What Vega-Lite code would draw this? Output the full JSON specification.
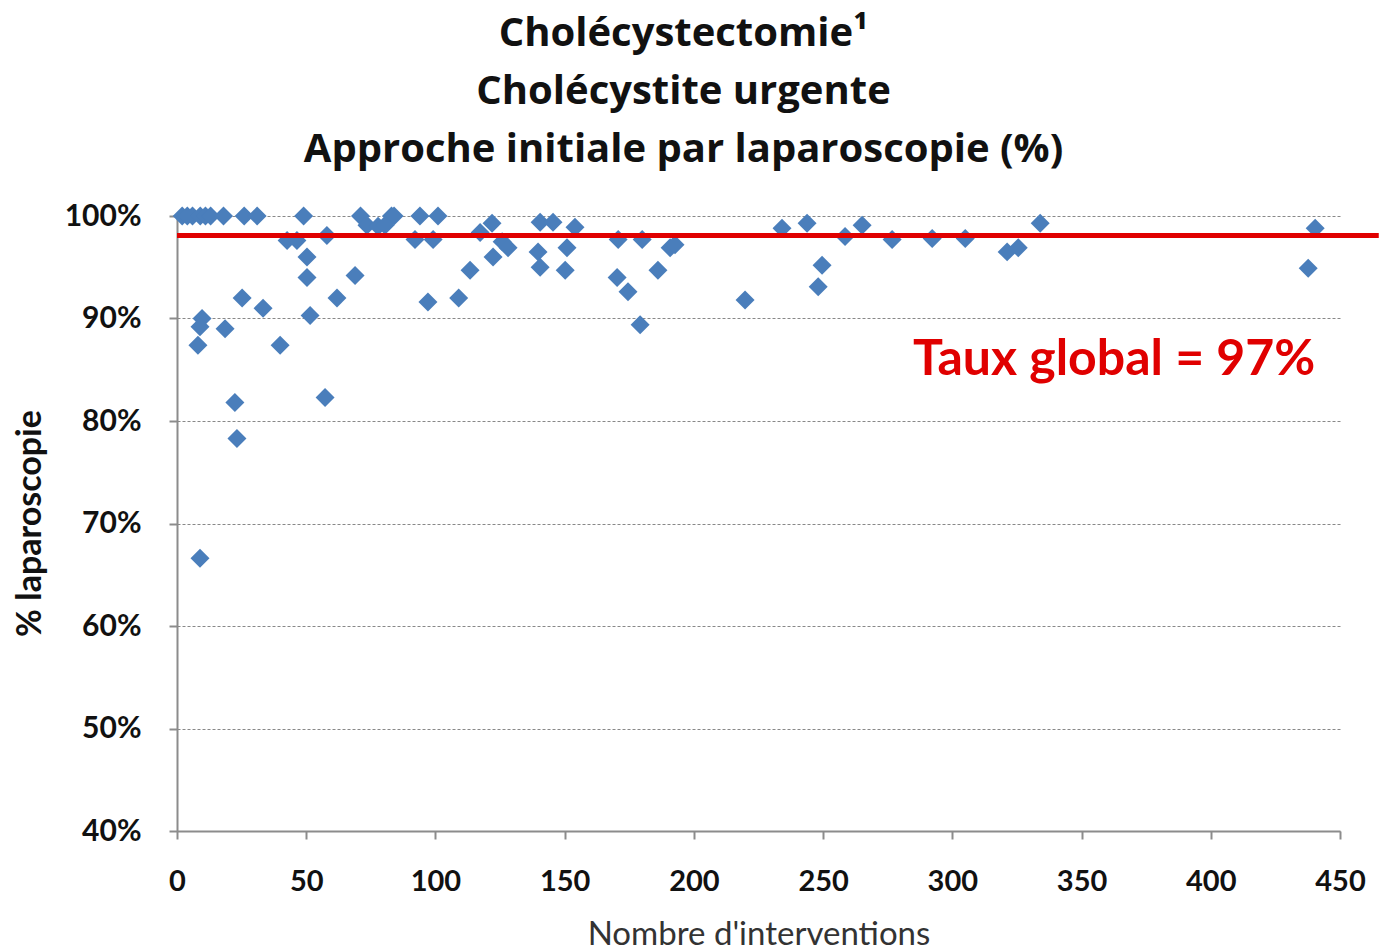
{
  "$schema": "https://vega.github.io/schema/vega-lite/v6.json",
  "width": 1163,
  "height": 615,
  "autosize": "none",
  "padding": {"left": 177, "top": 216, "right": 43, "bottom": 120},
  "background": "white",
  "title": {
    "text": ["Cholécystectomie¹", "Cholécystite urgente", "Approche initiale par laparoscopie (%)"],
    "anchor": "middle",
    "frame": "group",
    "dx": -75,
    "offset": 31,
    "font": "Open Sans",
    "fontSize": 40,
    "fontWeight": "bold",
    "color": "#111",
    "lineHeight": 58
  },
  "config": {
    "view": {"stroke": null},
    "font": "Lato"
  },
  "datasets": {
    "pts": [
      {"n": 2, "pct": 100}, {"n": 4, "pct": 100}, {"n": 6, "pct": 100}, {"n": 9, "pct": 100},
      {"n": 11, "pct": 100}, {"n": 13, "pct": 100}, {"n": 18, "pct": 100}, {"n": 26, "pct": 100},
      {"n": 31, "pct": 100}, {"n": 49, "pct": 100}, {"n": 71, "pct": 100}, {"n": 83, "pct": 100},
      {"n": 84, "pct": 100}, {"n": 94, "pct": 100}, {"n": 101, "pct": 100},
      {"n": 73.5, "pct": 99.1}, {"n": 77.8, "pct": 99.0}, {"n": 80.5, "pct": 99.1},
      {"n": 58, "pct": 98.1}, {"n": 42.6, "pct": 97.6}, {"n": 46.4, "pct": 97.6},
      {"n": 92.1, "pct": 97.7}, {"n": 99.1, "pct": 97.7},
      {"n": 50.3, "pct": 96.0}, {"n": 50.3, "pct": 94.0}, {"n": 68.9, "pct": 94.2},
      {"n": 25.2, "pct": 92.0}, {"n": 33.3, "pct": 91.0}, {"n": 61.9, "pct": 92.0},
      {"n": 97.1, "pct": 91.6}, {"n": 109, "pct": 92.0}, {"n": 51.5, "pct": 90.3},
      {"n": 9.7, "pct": 90.0}, {"n": 8.9, "pct": 89.2}, {"n": 18.6, "pct": 89.0},
      {"n": 8.1, "pct": 87.4}, {"n": 39.9, "pct": 87.4}, {"n": 22.4, "pct": 81.8},
      {"n": 57.3, "pct": 82.3}, {"n": 23.2, "pct": 78.3}, {"n": 8.9, "pct": 66.6},
      {"n": 117.3, "pct": 98.4}, {"n": 121.9, "pct": 99.3}, {"n": 125.8, "pct": 97.5},
      {"n": 128.1, "pct": 96.9}, {"n": 122.3, "pct": 96.0}, {"n": 113.4, "pct": 94.7},
      {"n": 140.5, "pct": 99.4}, {"n": 145.5, "pct": 99.4}, {"n": 154, "pct": 98.9},
      {"n": 139.7, "pct": 96.5}, {"n": 140.5, "pct": 95.0}, {"n": 150.9, "pct": 96.9},
      {"n": 150.2, "pct": 94.7}, {"n": 170.7, "pct": 97.7}, {"n": 180, "pct": 97.7},
      {"n": 170.3, "pct": 94.0}, {"n": 174.5, "pct": 92.6}, {"n": 179.2, "pct": 89.4},
      {"n": 190.8, "pct": 96.9}, {"n": 192.7, "pct": 97.2}, {"n": 186.1, "pct": 94.7},
      {"n": 219.8, "pct": 91.8}, {"n": 234.1, "pct": 98.8}, {"n": 243.8, "pct": 99.3},
      {"n": 249.6, "pct": 95.2}, {"n": 248.1, "pct": 93.1}, {"n": 258.5, "pct": 98.0},
      {"n": 265.1, "pct": 99.1}, {"n": 276.7, "pct": 97.7}, {"n": 292.2, "pct": 97.8},
      {"n": 305, "pct": 97.8}, {"n": 321.2, "pct": 96.5}, {"n": 325.5, "pct": 96.9},
      {"n": 334, "pct": 99.3}, {"n": 440.4, "pct": 98.8}, {"n": 437.7, "pct": 94.9}
    ],
    "ref": [{"x0": 0, "x1": 465, "rate": 98.1}],
    "note": [{"n": 362.6, "pct": 86.0, "label": "Taux global = 97%"}]
  },
  "layer": [
    {
      "data": {"name": "pts"},
      "mark": {"type": "point", "shape": "diamond", "filled": true, "size": 360, "color": "#4a7ebb", "opacity": 1},
      "encoding": {
        "x": {
          "field": "n", "type": "quantitative",
          "scale": {"domain": [0, 450], "nice": false, "zero": true},
          "axis": {
            "values": [0, 50, 100, 150, 200, 250, 300, 350, 400, 450],
            "grid": false,
            "labelFlush": false,
            "domainColor": "#8c8c8c", "domainWidth": 2,
            "tickColor": "#8c8c8c", "tickSize": 8, "tickWidth": 2,
            "labelFont": "Lato", "labelFontSize": 29, "labelFontWeight": "bold", "labelColor": "#111",
            "labelPadding": 28,
            "title": "Nombre d'interventions",
            "titleFont": "Lato", "titleFontSize": 33, "titleFontWeight": "normal", "titleColor": "#333",
            "titleBaseline": "middle", "titleY": 103
          }
        },
        "y": {
          "field": "pct", "type": "quantitative",
          "scale": {"domain": [40, 100], "nice": false, "zero": false},
          "axis": {
            "values": [40, 50, 60, 70, 80, 90, 100],
            "labelExpr": "datum.value + '%'",
            "grid": true, "gridColor": "#888", "gridDash": [3, 2], "gridWidth": 1,
            "domainColor": "#8c8c8c", "domainWidth": 2,
            "tickColor": "#8c8c8c", "tickSize": 8, "tickWidth": 2,
            "labelFont": "Lato", "labelFontSize": 30, "labelFontWeight": "bold", "labelColor": "#111",
            "labelPadding": 28,
            "title": "% laparoscopie",
            "titleFont": "Lato", "titleFontSize": 34, "titleFontWeight": "bold", "titleColor": "#111",
            "titleAngle": -90, "titleAlign": "center", "titleBaseline": "middle",
            "titleX": -147, "titleY": 307
          }
        }
      }
    },
    {
      "data": {"name": "ref"},
      "mark": {"type": "rule", "color": "#e00000", "strokeWidth": 5, "clip": false},
      "encoding": {
        "x": {"field": "x0", "type": "quantitative"},
        "x2": {"field": "x1"},
        "y": {"field": "rate", "type": "quantitative"}
      }
    },
    {
      "data": {"name": "note"},
      "mark": {"type": "text", "font": "Lato", "fontSize": 50, "fontWeight": "bold", "color": "#e00000", "align": "center", "baseline": "middle"},
      "encoding": {
        "x": {"field": "n", "type": "quantitative"},
        "y": {"field": "pct", "type": "quantitative"},
        "text": {"field": "label"}
      }
    }
  ]
}
